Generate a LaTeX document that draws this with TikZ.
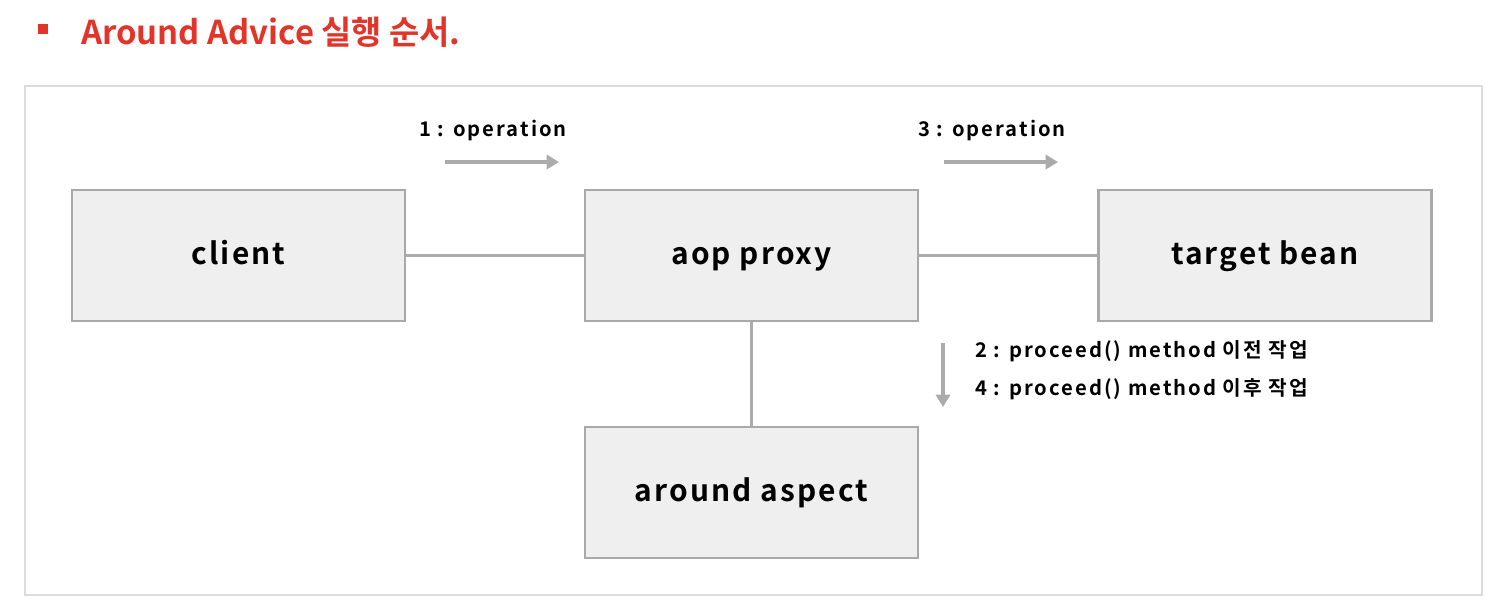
\documentclass[tikz,border=0pt]{standalone}
\usepackage{fontspec}
\setmainfont{Noto Sans CJK KR}
\newfontfamily\krtitle{Noto Sans CJK KR Bold}
\newfontfamily\krbox[LetterSpace=7]{Noto Sans CJK KR Bold}
\newfontfamily\krlab[LetterSpace=10]{Noto Sans CJK KR Bold}
\usetikzlibrary{arrows.meta}
\definecolor{titlered}{HTML}{E3342A}
\definecolor{boxfill}{HTML}{EFEFEF}
\definecolor{boxline}{HTML}{A9A9A9}
\definecolor{frameline}{HTML}{DCDCDC}
\definecolor{conn}{HTML}{ABABAB}
\tikzset{
  entity/.style={draw=boxline, fill=boxfill, line width=1.3pt, minimum width=6.66cm, minimum height=2.62cm, inner sep=0pt, text height=12pt, text depth=2pt, font=\krbox\fontsize{17}{20}\selectfont},
  link/.style={draw=conn, line width=1.8pt},
  flow/.style={draw=conn, line width=1.8pt, -{Triangle[length=7pt,width=8pt]}},
  steplabel/.style={font=\krlab\fontsize{11.5}{14}\selectfont, inner sep=0pt, anchor=base west},
}
\begin{document}
\begin{tikzpicture}[x=0.02cm,y=-0.02cm]
\useasboundingbox (0,0) rectangle (1500,610);
\fill[white] (0,0) rectangle (1500,610);
% title
\fill[titlered] (38,24) rectangle (48,34);
\node[font=\krtitle\fontsize{18.7}{22}\selectfont, text=titlered, anchor=base west, inner sep=0pt] (title) at (81,44) {Around Advice 실행 순서.};
% frame
\draw[frameline, line width=1.5pt] (25,86) rectangle (1482,595);
% boxes
\node[entity] (client) at (238.5,255.5) {client};
\node[entity] (proxy) at (751.5,255.5) {aop proxy};
\node[entity] (target) at (1265,255.5) {target bean};
\node[entity] (aspect) at (751.5,492.5) {around aspect};
% connectors
\draw[link] (client.east) -- (proxy.west);
\draw[link] (proxy.east) -- (target.west);
\draw[link] (proxy.south) -- (aspect.north);
% arrows and labels
\coordinate (a1s) at (445,162); \coordinate (a1e) at (559,162);
\draw[flow] (a1s) -- (a1e);
\node[steplabel] (l1) at (419,136) {1 : operation};
\coordinate (a3s) at (944,162); \coordinate (a3e) at (1058,162);
\draw[flow] (a3s) -- (a3e);
\node[steplabel] (l3) at (918,136) {3 : operation};
\coordinate (a2s) at (943,343); \coordinate (a2e) at (943,407);
\draw[flow] (a2s) -- (a2e);
\node[steplabel] (l2) at (975,357) {2 : proceed() method 이전 작업};
\node[steplabel] (l4) at (975,395) {4 : proceed() method 이후 작업};
\end{tikzpicture}
\end{document}
